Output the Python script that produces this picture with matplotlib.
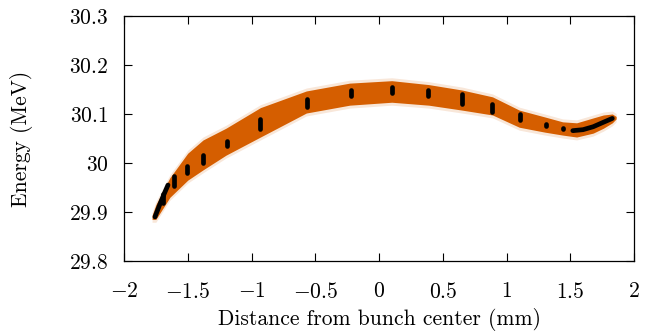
import matplotlib
matplotlib.use("Agg")
import matplotlib.pyplot as plt
from matplotlib.ticker import FixedLocator, FixedFormatter

plt.rcParams['font.family'] = 'serif'
plt.rcParams['font.serif'] = ['cmr10', 'DejaVu Serif']
plt.rcParams['mathtext.fontset'] = 'cm'
plt.rcParams['axes.formatter.use_mathtext'] = True

# Orange particle band (edges)
band_x = [-1.78, -1.75, -1.64, -1.5, -1.38, -1.2, -0.93, -0.57, -0.23, 0.1, 0.39,
          0.65, 0.89, 1.1, 1.3, 1.44, 1.55, 1.68, 1.76, 1.83, 1.86]
band_upper = [29.893, 29.915, 29.97, 30.02, 30.047, 30.071, 30.113, 30.147, 30.163,
              30.168, 30.16, 30.149, 30.135, 30.108, 30.094, 30.084, 30.082, 30.092,
              30.098, 30.1, 30.095]
band_lower = [29.885, 29.885, 29.93, 29.965, 29.986, 30.016, 30.053, 30.102, 30.118,
              30.124, 30.118, 30.108, 30.098, 30.073, 30.063, 30.057, 30.053, 30.061,
              30.071, 30.082, 30.09]

# Black slice clusters (x, y low, y high)
clus_x = [-1.694, -1.61, -1.506, -1.38, -1.19, -0.933, -0.565, -0.22, 0.102, 0.385,
          0.65, 0.886, 1.106, 1.31, 1.44]
clus_lo = [29.915, 29.95, 29.976, 29.996, 30.031, 30.067, 30.112, 30.133, 30.139,
           30.133, 30.118, 30.102, 30.084, 30.073, 30.069]
clus_hi = [29.94, 29.976, 29.996, 30.02, 30.047, 30.092, 30.133, 30.153, 30.159,
           30.153, 30.143, 30.124, 30.102, 30.082, 30.073]

# Dense black tails at both ends
left_x = [-1.757, -1.72, -1.68, -1.655]
left_y = [29.89, 29.915, 29.94, 29.955]
right_x = [1.52, 1.6, 1.68, 1.75, 1.83]
right_y = [30.066, 30.068, 30.074, 30.082, 30.091]

xticks = [-2, -1.5, -1, -0.5, 0, 0.5, 1, 1.5, 2]
xticklabels = ['$-2$', '$-1.5$', '$-1$', '$-0.5$', '$0$', '$0.5$', '$1$', '$1.5$', '$2$']
yticks = [29.8, 29.9, 30.0, 30.1, 30.2, 30.3]
yticklabels = ['$29.8$', '$29.9$', '$30$', '$30.1$', '$30.2$', '$30.3$']

orange = '#D55E00'

fig = plt.figure(figsize=(6.51, 3.33), dpi=100)
ax = fig.add_axes([124/651, 1-261/333, 510/651, 245/333])

# speckle halo
halo = 0.006
ax.fill_between(band_x, [v - halo for v in band_lower], [v + halo for v in band_upper],
                color=orange, alpha=0.15, lw=0)
ax.fill_between(band_x, band_lower, band_upper, color=orange, lw=0)

for x, lo, hi in zip(clus_x, clus_lo, clus_hi):
    ax.plot([x, x], [lo + 0.003, hi - 0.003], color='black', lw=3.4,
            solid_capstyle='round')
ax.plot(left_x, left_y, color='black', lw=3.4, solid_capstyle='round')
ax.plot(right_x, right_y, color='black', lw=3.4, solid_capstyle='round')

ax.set_xlim(-2, 2)
ax.set_ylim(29.8, 30.3)
ax.xaxis.set_major_locator(FixedLocator(xticks))
ax.xaxis.set_major_formatter(FixedFormatter(xticklabels))
ax.yaxis.set_major_locator(FixedLocator(yticks))
ax.yaxis.set_major_formatter(FixedFormatter(yticklabels))
ax.tick_params(direction='in', top=True, right=True, length=6, width=0.8,
               labelsize=15.5)
ax.tick_params(axis='x', pad=15)
ax.tick_params(axis='y', pad=11)
for s in ax.spines.values():
    s.set_linewidth(0.9)

ax.set_xlabel('Distance from bunch center (mm)', fontsize=15.5)
ax.set_ylabel('Energy (MeV)', fontsize=15.5)
ax.xaxis.set_label_coords(0.5, -0.193)
ax.yaxis.set_label_coords(-0.178, 0.5)

fig.savefig('out.png', dpi=100)
